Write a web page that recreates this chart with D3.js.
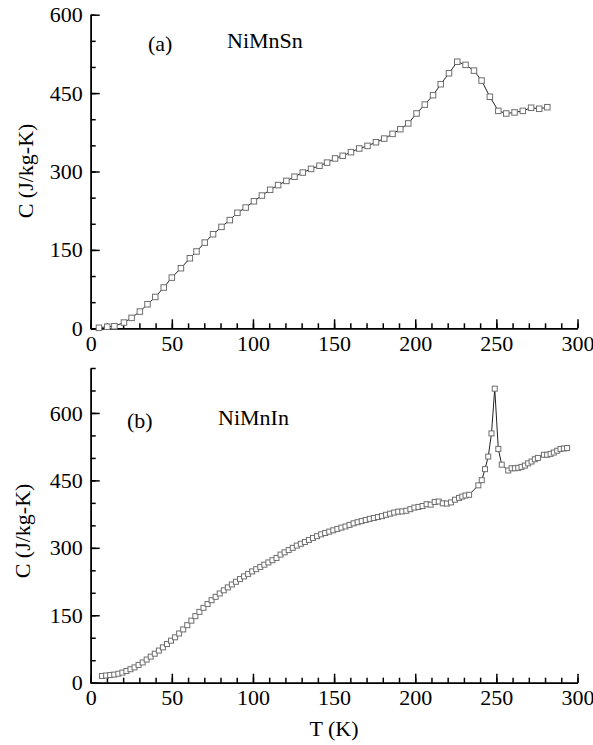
<!DOCTYPE html>
<html>
<head>
<meta charset="utf-8">
<script src="https://cdn.jsdelivr.net/npm/d3@7"></script>
<style>
body { margin: 0; background: #fff; }
svg { display: block; }
svg text { font-family: "Liberation Serif", "Times New Roman", Times, "DejaVu Serif", serif; fill: #000; }
.axis path, .axis line { stroke: #000; stroke-width: 1.5; }
.axis text { font-size: 22px; }
</style>
</head>
<body>
<div id="chart"></div>
<script>
// NiMnSn, panel (a)
var tempSn = [5.1, 10.2, 14.6, 20.5, 25.2, 30.3, 35, 39.8, 45, 50, 55.6, 61.1, 65.2, 70.3, 75.4, 80.6, 85.7, 90.4, 95.5, 100.6,
    105.5, 110.6, 115.5, 120.6, 125.6, 130.7, 135.8, 141, 145.7, 150.6, 155.3, 160.4, 165.5, 170.6, 175.8, 180.9, 186, 190.8, 195.7, 200.8,
    205.9, 211, 215.7, 220.8, 225.9, 231, 236.2, 240.9, 246, 251.2, 256.1, 261.2, 266.3, 271.4, 276.4, 281.4];
var heatSn = [1, 3, 4, 11, 20, 32, 46, 60, 78, 97, 115, 134, 147, 164, 180, 194, 207, 221, 231, 243,
    254, 265, 274, 282, 290, 298, 305, 311, 317, 325, 330, 337, 344, 349, 356, 363, 372, 381, 392, 411,
    428, 446, 467, 488, 510, 504, 493, 474, 443, 416, 411, 413, 416, 422, 420, 423];

// NiMnIn, panel (b)
var tempIn = [7, 9.5, 12, 14.5, 17, 19.5, 22, 24.5, 27, 29.5, 32, 34.5, 37, 39.5, 42, 44.5, 47, 49.5, 52, 54.5,
    57, 59.5, 62, 64.5, 67, 69.5, 72, 74.5, 77, 79.5, 82, 84.5, 87, 89.5, 92, 94.5, 97, 99.5, 102, 104.5,
    107, 109.5, 112, 114.5, 117, 119.5, 122, 124.5, 127, 129.5, 132, 134.5, 137, 139.5, 142, 144.5, 147, 149.5, 152, 154.5,
    157, 159.5, 162, 164.5, 167, 169.5, 172, 174.5, 177, 179.5, 182, 184.5, 187, 189.5, 192, 194.5, 197, 199.5, 202, 204.5,
    207, 209.5, 212, 214.5, 217, 219.5, 222, 224.5, 227, 229, 231, 233.2, 238.9, 241, 243, 245, 247, 249, 251.2, 253.3,
    257.3, 259.4, 261.4, 263.5, 265.5, 267.6, 269.6, 271.7, 273.7, 275.6, 279.3, 281.3, 283.4, 285.4, 287.5, 289.5, 291.6, 293.6];
var heatIn = [15, 16, 17, 18, 20, 22.5, 26, 30, 34, 39.5, 45, 51.5, 58, 64.5, 71.5, 78.5, 86, 93.5, 101, 109.5,
    118.5, 128, 138, 148, 157.5, 166.5, 175, 183.5, 191, 198.5, 205.5, 212, 218.5, 224.5, 230.5, 236.5, 242, 247.5, 252.5, 257.5,
    262.5, 267.5, 272.5, 277.5, 285, 290, 295, 300, 305, 309, 313, 317.5, 322, 326, 330, 333, 336, 339, 342, 345,
    347.5, 351, 354.5, 357, 359.5, 362, 364.5, 366.5, 368.5, 370.5, 373.5, 376, 378.5, 380.5, 381, 382.5, 386, 389.5, 391, 393,
    397, 396, 402, 403, 399, 398.5, 401, 407, 411, 414, 416.5, 418, 439, 450.5, 475, 503, 554.5, 654, 520, 485,
    472, 477, 477, 478, 480, 483, 488, 492, 497, 500, 507, 507, 509, 512, 516, 520, 521, 522];

var xTicks = [0, 50, 100, 150, 200, 250, 300];
var yTicks = [0, 150, 300, 450, 600];

var svgwidth = 593, svgheight = 745;
var svg = d3.select("#chart").append("svg")
    .attr("width", svgwidth)
    .attr("height", svgheight);

function drawPanel(opt) {
    var x = d3.scaleLinear().domain([0, 300]).range([90.7, 577.5]);
    var y = d3.scaleLinear().domain([0, opt.ymax]).range([opt.y0, opt.ytop]);

    // minor ticks first, majors over them
    svg.append("g").attr("class", "axis")
        .attr("transform", "translate(0," + opt.y0 + ")")
        .call(d3.axisBottom(x).tickValues(d3.range(0, 301, 10)).tickSize(-5).tickSizeOuter(0).tickFormat(""));
    svg.append("g").attr("class", "axis")
        .attr("transform", "translate(0," + opt.y0 + ")")
        .call(d3.axisBottom(x).tickValues(xTicks).tickSize(-9).tickSizeOuter(0).tickPadding(7));

    svg.append("g").attr("class", "axis")
        .attr("transform", "translate(90.7,0)")
        .call(d3.axisLeft(y).tickValues(d3.range(0, opt.ymax + 1, 50)).tickSize(-5).tickSizeOuter(0).tickFormat(""));
    svg.append("g").attr("class", "axis")
        .attr("transform", "translate(90.7,0)")
        .call(d3.axisLeft(y).tickValues(yTicks).tickSize(-9).tickSizeOuter(0).tickPadding(8));

    svg.selectAll(".axis").attr("font-family", null);

    var data = opt.temps.map(function(t, i) { return {t: t, c: opt.heats[i]}; });

    var line = d3.line()
        .x(function(d) { return x(d.t); })
        .y(function(d) { return y(d.c); });

    svg.append("path")
        .datum(data)
        .attr("d", line)
        .attr("fill", "none")
        .attr("stroke", "#222")
        .attr("stroke-width", 1);

    var s = opt.size;
    svg.append("g").selectAll("rect")
        .data(data)
        .enter().append("rect")
        .attr("x", function(d) { return x(d.t) - s / 2; })
        .attr("y", function(d) { return y(d.c) - s / 2; })
        .attr("width", s)
        .attr("height", s)
        .attr("fill", "#fff")
        .attr("stroke", "#6e6e6e")
        .attr("stroke-width", 1);

    svg.append("text")
        .attr("transform", "translate(" + opt.labx + "," + opt.laby + ") rotate(-90)")
        .attr("text-anchor", "middle")
        .attr("dy", "0.35em")
        .style("font-size", "22px")
        .text("C (J/kg-K)");

    svg.append("text")
        .attr("x", opt.tagx).attr("y", opt.tagy)
        .style("font-size", "22px")
        .text(opt.tag);
    svg.append("text")
        .attr("x", opt.namex).attr("y", opt.namey)
        .style("font-size", "22px")
        .text(opt.name);
}

drawPanel({temps: tempSn, heats: heatSn, ymax: 600, y0: 328.3, ytop: 14.7, size: 5.5,
    labx: 25, laby: 171, tag: "(a)", tagx: 148, tagy: 51, name: "NiMnSn", namex: 227, namey: 48});
drawPanel({temps: tempIn, heats: heatIn, ymax: 700, y0: 682.7, ytop: 368, size: 5,
    labx: 22, laby: 531, tag: "(b)", tagx: 127, tagy: 428, name: "NiMnIn", namex: 218, namey: 425});

svg.append("text")
    .attr("x", 334).attr("y", 736)
    .attr("text-anchor", "middle")
    .style("font-size", "22px")
    .text("T (K)");
</script>
</body>
</html>
